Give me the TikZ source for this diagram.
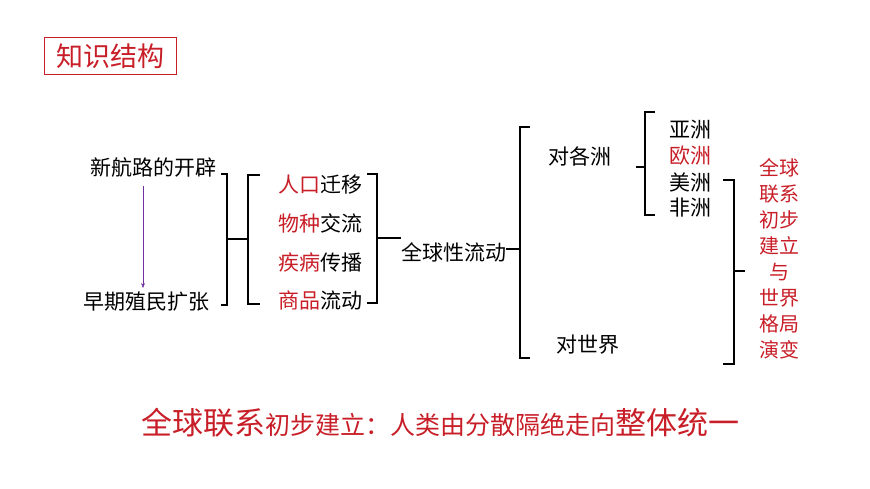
\documentclass[tikz,border=0pt]{standalone}
\usepackage{fontspec}
\setmainfont{Noto Sans CJK SC}
\usetikzlibrary{arrows.meta}
\definecolor{rd}{RGB}{200,30,40}
\definecolor{pu}{RGB}{112,48,160}
\begin{document}
\begin{tikzpicture}[x=1pt,y=-1pt,
  lbl/.style={inner sep=0pt,font=\fontsize{21}{21}\selectfont},
  br/.style={line width=1.2pt},
  R/.style={text=rd}]
\useasboundingbox (0,0) rectangle (870,489);
\node[draw=rd,line width=1pt,minimum width=132,minimum height=37,text=rd,font=\fontsize{27}{27}\selectfont,inner sep=0pt] (title) at (110,56) {知识结构};
\node[lbl] (xh) at (153,167) {新航路的开辟};
\node[lbl] (zq) at (146,302) {早期殖民扩张};
\draw[pu,-{Stealth[length=5pt]}] (143,186) -- (143,288);
% bracket 1
\draw[br] (221,174) -- (227,174) -- (227,305) -- (221,305);
\draw[br] (227,239) -- (248,239);
% bracket 2
\draw[br] (260,175) -- (248,175) -- (248,304) -- (260,304);
\node[lbl,anchor=west] (a1) at (278,185) {\textcolor{rd}{人口}迁移};
\node[lbl,anchor=west] (a2) at (278,223) {\textcolor{rd}{物种}交流};
\node[lbl,anchor=west] (a3) at (278,262) {\textcolor{rd}{疾病}传播};
\node[lbl,anchor=west] (a4) at (278,300) {\textcolor{rd}{商品}流动};
% bracket 3
\draw[br] (367,174) -- (377,174) -- (377,303) -- (367,303);
\draw[br] (377,238) -- (401,238);
\node[lbl,anchor=west] (qq) at (401,252) {全球性流动};
\draw[br] (qq.east) ++(0,-3) -- (520,249);
% big bracket
\draw[br] (530,127) -- (520,127) -- (520,358) -- (530,358);
\node[lbl] (dg) at (580,156) {对各洲};
\node[lbl] (ds) at (588,345) {对世界};
% small bracket
\draw[br] (636,167) -- (645,167);
\draw[br] (655,112) -- (645,112) -- (645,215) -- (655,215);
\node[lbl] (c1) at (690,130) {亚洲};
\node[lbl,R] (c2) at (690,156) {欧洲};
\node[lbl] (c3) at (690,182) {美洲};
\node[lbl] (c4) at (690,208) {非洲};
% right bracket
\draw[br] (723,180) -- (734,180) -- (734,364) -- (723,364);
\draw[br] (734,271) -- (745,271);
\node[R,inner sep=0pt,align=center,font=\fontsize{20}{26}\selectfont,anchor=north] (v) at (779,158) {全球\\联系\\初步\\建立\\与\\世界\\格局\\演变};
\node[R,inner sep=0pt,anchor=base] (bt) at (440,434) {\fontsize{31}{31}\selectfont 全球联系\fontsize{25}{25}\selectfont 初步建立：人类由分散隔绝走向\fontsize{31}{31}\selectfont 整体统一};
\end{tikzpicture}
\end{document}
